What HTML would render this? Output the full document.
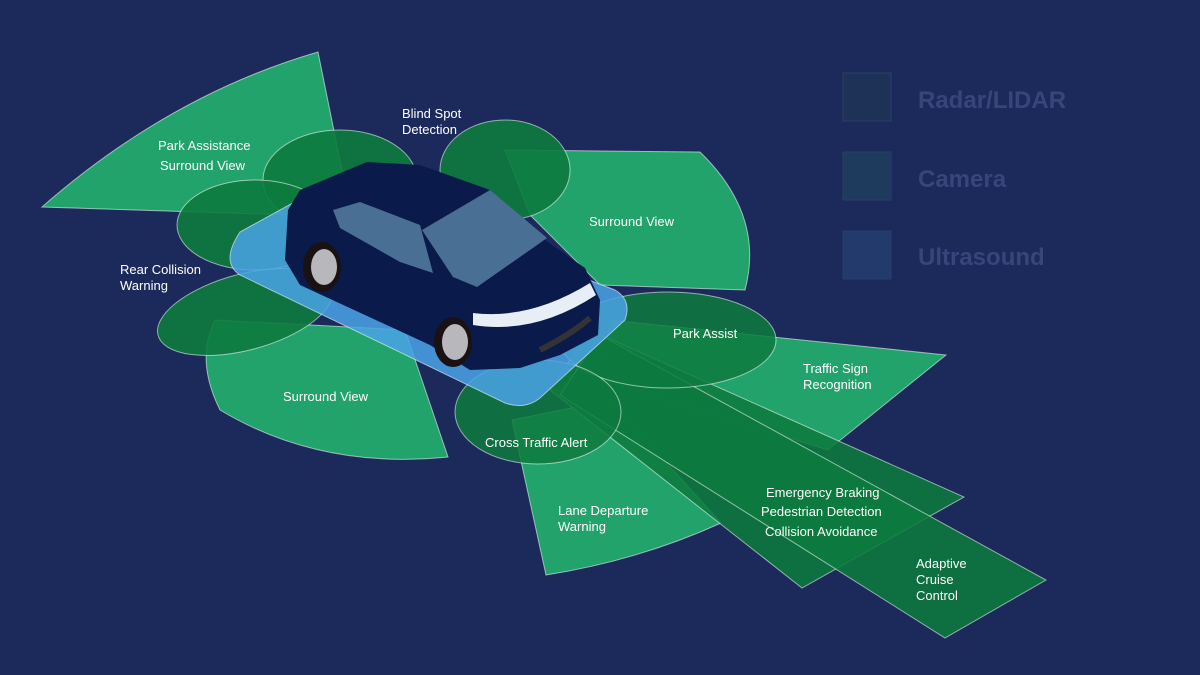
<!DOCTYPE html>
<html><head><meta charset="utf-8"><style>
html,body{margin:0;padding:0;background:#1c2a5b;}
svg{display:block}
text{font-family:"Liberation Sans",sans-serif;fill:#fff;font-size:13px}
.lg{fill:#36467a;font-size:24px;font-weight:bold}
</style></head><body>
<svg width="1200" height="675" viewBox="0 0 1200 675">
<rect width="1200" height="675" fill="#1c2a5b"/>
<g stroke="#ffffff" stroke-opacity="0.55" stroke-width="1">
<path d="M42,207 Q170,95 318,52 L345,185 L290,215 Z" fill="#23a36c"/>
<path d="M505,150 L700,152 Q765,215 745,290 L600,285 L530,215 Z" fill="#23a36c"/>
<path d="M215,320 L405,330 L448,457 Q320,470 220,410 Q195,360 215,320 Z" fill="#23a36c"/>
<path d="M610,320 L946,355 L828,450 L600,380 Z" fill="#23a36c"/>
<path d="M512,420 L610,400 L721,523 Q640,560 546,575 Z" fill="#23a36c"/>
<path d="M590,330 L964,497 L802,588 L550,390 Z" fill="#0d7a3e" fill-opacity="0.88"/>
<path d="M600,335 L1046,580 L945,638 L560,395 Z" fill="#0d7a3e" fill-opacity="0.88"/>
<ellipse cx="340" cy="180" rx="77" ry="50" fill="#0d7a3e" fill-opacity="0.9"/>
<ellipse cx="255" cy="225" rx="78" ry="45" fill="#0d7a3e" fill-opacity="0.9"/>
<ellipse cx="505" cy="170" rx="65" ry="50" fill="#0d7a3e" fill-opacity="0.9"/>
<ellipse cx="245" cy="312" rx="90" ry="38" transform="rotate(-15 245 312)" fill="#0d7a3e" fill-opacity="0.9"/>
<ellipse cx="668" cy="340" rx="108" ry="48" fill="#0d7a3e" fill-opacity="0.85"/>
<ellipse cx="538" cy="412" rx="83" ry="52" fill="#0d7a3e" fill-opacity="0.85"/>
<path d="M240,232 L320,188 Q335,182 350,188 L615,290 Q632,300 625,320 L540,398 Q525,410 505,403 L240,275 Q220,262 240,232 Z" fill="#4aa3e8" fill-opacity="0.85"/>
</g>
<g>
<path d="M288,210 L300,190 L367,162 L420,165 L490,190 L545,240 L585,268 L600,300 L598,335 L560,355 L520,368 L470,370 L430,345 L300,285 L285,260 Z" fill="#0a1a4a"/>
<path d="M333,210 L360,202 L420,225 L433,273 L400,262 L340,228 Z" fill="#4a6f95"/>
<path d="M422,230 L490,190 L547,238 L530,250 L477,287 L453,277 Z" fill="#4a6f95"/>
<path d="M473,313 Q530,320 590,283 L596,295 Q535,335 473,325 Z" fill="#e8eef5"/>
<path d="M540,350 Q570,335 590,318" stroke="#333" stroke-width="6" fill="none"/>
<ellipse cx="322" cy="267" rx="19" ry="25" fill="#1a1212"/>
<ellipse cx="324" cy="267" rx="13" ry="18" fill="#b8b8bc"/>
<ellipse cx="453" cy="342" rx="19" ry="25" fill="#1a1212"/>
<ellipse cx="455" cy="342" rx="13" ry="18" fill="#b8b8bc"/>
</g>
<text x="158" y="150">Park Assistance</text>
<text x="160" y="170">Surround View</text>
<text x="402" y="118">Blind Spot</text>
<text x="402" y="134">Detection</text>
<text x="120" y="274">Rear Collision</text>
<text x="120" y="290">Warning</text>
<text x="589" y="226">Surround View</text>
<text x="283" y="401">Surround View</text>
<text x="673" y="338">Park Assist</text>
<text x="803" y="373">Traffic Sign</text>
<text x="803" y="389">Recognition</text>
<text x="485" y="447">Cross Traffic Alert</text>
<text x="558" y="515">Lane Departure</text>
<text x="558" y="531">Warning</text>
<text x="766" y="497">Emergency Braking</text>
<text x="761" y="516">Pedestrian Detection</text>
<text x="765" y="536">Collision Avoidance</text>
<text x="916" y="568">Adaptive</text>
<text x="916" y="584">Cruise</text>
<text x="916" y="600">Control</text>
<rect x="843" y="73" width="48" height="48" fill="#1d3256" stroke="#2a3f6a"/>
<rect x="843" y="152" width="48" height="48" fill="#1e3a5c" stroke="#2a3f6a"/>
<rect x="843" y="231" width="48" height="48" fill="#223a6c" stroke="#2a3f6a"/>
<text class="lg" x="918" y="108">Radar/LIDAR</text>
<text class="lg" x="918" y="187">Camera</text>
<text class="lg" x="918" y="265">Ultrasound</text>
</svg>
</body></html>
